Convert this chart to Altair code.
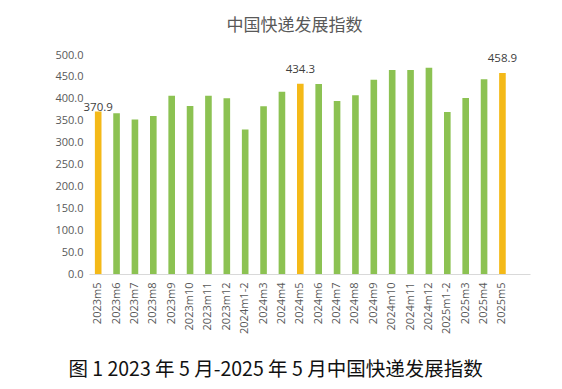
import altair as alt
import pandas as pd

months = ["2023m5", "2023m6", "2023m7", "2023m8", "2023m9", "2023m10", "2023m11",
          "2023m12", "2024m1-2", "2024m3", "2024m4", "2024m5", "2024m6", "2024m7",
          "2024m8", "2024m9", "2024m10", "2024m11", "2024m12", "2025m1-2", "2025m3",
          "2025m4", "2025m5"]
values = [370.9, 367.0, 353.0, 361.0, 407.0, 383.5, 407.0, 401.0, 330.0, 383.0, 416.0,
          434.3, 434.0, 395.0, 408.0, 443.5, 465.5, 465.5, 471.0, 370.0, 402.0, 444.5,
          458.9]
highlight = ["2023m5", "2024m5", "2025m5"]
y_ticks = [0, 50, 100, 150, 200, 250, 300, 350, 400, 450, 500]

df = pd.DataFrame({"month": months, "value": values})
df["hl"] = df["month"].isin(highlight)
df["label"] = [f"{v:.1f}" if m in highlight else "" for m, v in zip(months, values)]

domain = months + [" "]

x = alt.X("month:N", sort=domain,
          scale=alt.Scale(domain=domain, paddingInner=0.64, paddingOuter=0.32),
          axis=alt.Axis(title="图 1 2023 年 5 月-2025 年 5 月中国快递发展指数",
                        titleFont="Noto Sans CJK SC", titleFontSize=19.5,
                        titleFontWeight="normal", titleColor="#111111",
                        titleX=186, titleY=95, titleAlign="center",
                        titleBaseline="middle",
                        labelAngle=-90, labelFont="Open Sans", labelFontSize=11,
                        labelColor="#595959", labelPadding=8, ticks=False,
                        labelOverlap=False,
                        domainColor="#d9d9d9", domainWidth=1))
y = alt.Y("value:Q",
          scale=alt.Scale(domain=[0, 500], nice=False, zero=True),
          axis=alt.Axis(title=None, values=y_ticks, labelOverlap=False,
                        tickCount=11,
                        format=".1f", grid=False, domain=False, ticks=False,
                        labelFont="Open Sans", labelFontSize=11, labelColor="#595959",
                        labelPadding=6))

bars = alt.Chart(df).mark_bar().encode(
    x=x, y=y,
    color=alt.condition(alt.datum.hl, alt.value("#F4B918"), alt.value("#8CC252")),
)

lab_first = alt.Chart(df[df["month"] == "2023m5"]).mark_text(
    baseline="bottom", dy=1, font="Open Sans", fontSize=11.5, color="#404040"
).encode(x=x, y=y, text="label:N")

lab_rest = alt.Chart(df[df["month"].isin(["2024m5", "2025m5"])]).mark_text(
    baseline="bottom", dy=-9, font="Open Sans", fontSize=11.5, color="#404040"
).encode(x=x, y=y, text="label:N")

chart = (bars + lab_first + lab_rest).properties(
    width=441, height=219,
    autosize=alt.AutoSizeParams(type="none"),
    padding={"left": 81, "top": 47, "right": 24, "bottom": 107},
    title=alt.TitleParams("中国快递发展指数", font="Noto Sans CJK SC", fontSize=17,
                          fontWeight="normal", color="#595959", anchor="middle",
                          dx=-15, offset=14),
).configure_view(stroke=None)

chart.save("out.html", embed_options={"renderer": "svg", "actions": False})
